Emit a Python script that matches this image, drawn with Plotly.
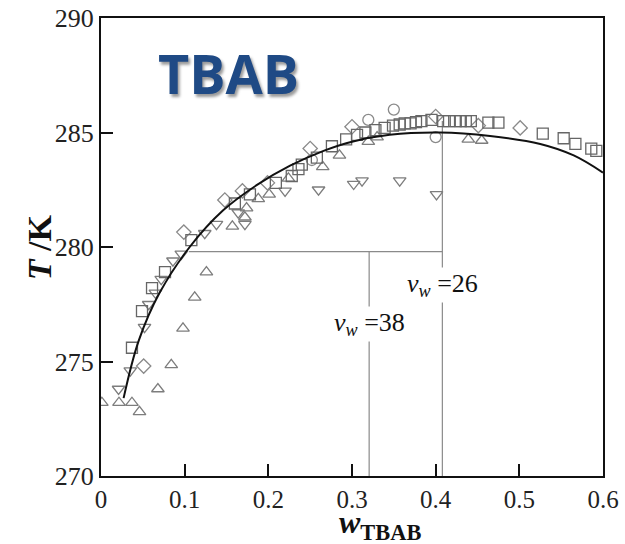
import plotly.graph_objects as go

# ---- data ----
curve_x = [0.027, 0.045, 0.07, 0.106, 0.146, 0.186, 0.226, 0.266, 0.30, 0.345, 0.405, 0.465, 0.525, 0.565, 0.6]
curve_y = [273.4, 275.9, 278.0, 280.0, 281.6, 282.7, 283.55, 284.2, 284.6, 284.9, 285.0, 284.85, 284.5, 284.0, 283.25]

sq_x = [0.037, 0.049, 0.061, 0.0765, 0.108, 0.160, 0.178, 0.209, 0.228, 0.236, 0.240, 0.258, 0.276,
        0.293, 0.306, 0.316, 0.328, 0.339, 0.349, 0.357, 0.363, 0.370, 0.3765, 0.383, 0.395, 0.409,
        0.416, 0.424, 0.430, 0.436, 0.442, 0.463, 0.475, 0.528, 0.553, 0.567, 0.586, 0.592]
sq_y = [275.6, 277.2, 278.2, 278.9, 280.3, 281.9, 282.3, 282.8, 283.1, 283.4, 283.6, 283.9, 284.4,
        284.7, 284.9, 285.0, 285.1, 285.2, 285.3, 285.35, 285.4, 285.4, 285.45, 285.5, 285.55, 285.5,
        285.5, 285.5, 285.5, 285.5, 285.5, 285.43, 285.43, 284.95, 284.75, 284.5, 284.3, 284.2]

dia_x = [0.051, 0.099, 0.148, 0.169, 0.199, 0.250, 0.300, 0.400, 0.451, 0.501]
dia_y = [274.8, 280.65, 282.05, 282.45, 282.8, 284.3, 285.25, 285.7, 285.3, 285.2]

cir_x = [0.252, 0.3195, 0.350, 0.400]
cir_y = [283.8, 285.55, 286.0, 284.8]

tup_x = [0.001, 0.0215, 0.037, 0.046, 0.068, 0.084, 0.098, 0.112, 0.126, 0.157, 0.172, 0.174,
         0.188, 0.201, 0.224, 0.265, 0.285, 0.3195, 0.330, 0.439, 0.455]
tup_y = [273.2, 273.2, 273.2, 272.8, 273.8, 274.85, 276.45, 277.8, 278.9, 280.9, 281.3, 281.7,
         282.1, 282.3, 283.0, 283.5, 284.0, 284.6, 284.8, 284.7, 284.65]

tdn_x = [0.021, 0.035, 0.052, 0.057, 0.065, 0.072, 0.086, 0.096, 0.124, 0.138, 0.164, 0.172,
         0.220, 0.260, 0.302, 0.312, 0.357, 0.401]
tdn_y = [273.8, 274.6, 276.5, 277.5, 278.0, 278.6, 279.4, 279.7, 280.6, 281.0, 281.5, 281.0,
         282.45, 282.5, 282.75, 282.9, 282.9, 282.3]

x_ticks = [0, 0.1, 0.2, 0.3, 0.4, 0.5, 0.6]
x_ticklabels = ["0", "0.1", "0.2", "0.3", "0.4", "0.5", "0.6"]
y_ticks = [270, 275, 280, 285, 290]

h_line_x = [0.105, 0.408]
h_line_y = [279.8, 279.8]
v38_x = [0.3205, 0.3205]
v38_y = [270, 279.8]
v26_x = [0.408, 0.408]
v26_y = [270, 285.5]

serif = "Liberation Serif, Times New Roman, serif"

fig = go.Figure()

for xs, ys in [(h_line_x, h_line_y), (v38_x, v38_y), (v26_x, v26_y)]:
    fig.add_trace(go.Scatter(x=xs, y=ys, mode="lines",
                             line=dict(color="#8a8a8a", width=1.2), showlegend=False, hoverinfo="skip"))

series = [
    (tup_x, tup_y, "triangle-up-open", "#7d7d7d"),
    (tdn_x, tdn_y, "triangle-down-open", "#7d7d7d"),
    (dia_x, dia_y, "diamond-open", "#8a8a8a"),
    (cir_x, cir_y, "circle-open", "#8a8a8a"),
    (sq_x, sq_y, "square-open", "#666666"),
]
for xs, ys, sym, col in series:
    fig.add_trace(go.Scatter(x=xs, y=ys, mode="markers",
                             marker=dict(symbol=sym, size=11, color=col, line=dict(width=1.3, color=col)),
                             showlegend=False))

fig.add_trace(go.Scatter(x=curve_x, y=curve_y, mode="lines",
                         line=dict(color="#111111", width=2, shape="spline", smoothing=1.0),
                         showlegend=False))

fig.add_annotation(x=0.408, y=278.35, xref="x", yref="y", showarrow=False,
                   text="<i>v</i><sub><i>w</i></sub> =26", bgcolor="white",
                   font=dict(family=serif, size=26, color="#111111"))
fig.add_annotation(x=0.3215, y=276.65, xref="x", yref="y", showarrow=False,
                   text="<i>v</i><sub><i>w</i></sub> =38", bgcolor="white",
                   font=dict(family=serif, size=26, color="#111111"))

fig.add_annotation(x=0.066, y=287.6, xref="x", yref="y", showarrow=False, xanchor="left",
                   text="<b>TBAB</b>",
                   font=dict(family="Open Sans, sans-serif", size=54, color="#1f4a85",
                             shadow="2px 3px 3px #9a9a9a"))

# axis titles
fig.add_annotation(x=0.555, y=0, xref="paper", yref="paper", yshift=-48,
                   showarrow=False, xanchor="center", yanchor="middle",
                   text="<b><i>w</i><sub>TBAB</sub></b>",
                   font=dict(family=serif, size=32, color="#111"))
fig.add_annotation(x=-0.123, y=0.5, xref="paper", yref="paper", showarrow=False,
                   xanchor="center", yanchor="middle", textangle=-90,
                   text="<b><i>T</i> /K</b>",
                   font=dict(family=serif, size=34, color="#111"))

fig.update_xaxes(range=[0, 0.6], tickvals=x_ticks, ticktext=x_ticklabels,
                 ticks="inside", ticklen=12, tickwidth=1.5, tickcolor="#111",
                 showline=True, linecolor="#111", linewidth=2, mirror=True,
                 showgrid=False, zeroline=False, automargin=False,
                 tickfont=dict(family=serif, size=25, color="#222"))
fig.update_yaxes(range=[270, 290], tickvals=y_ticks,
                 ticks="inside", ticklen=12, tickwidth=1.5, tickcolor="#111",
                 showline=True, linecolor="#111", linewidth=2, mirror=True,
                 showgrid=False, zeroline=False, automargin=False,
                 tickfont=dict(family=serif, size=26, color="#222"))

fig.update_layout(width=625, height=544, margin=dict(l=101, r=22, t=18, b=68),
                  plot_bgcolor="white", paper_bgcolor="white")

fig.write_html("out.html", config={"displayModeBar": False},
               post_script="document.body.style.margin='0';document.body.style.overflow='hidden';")
